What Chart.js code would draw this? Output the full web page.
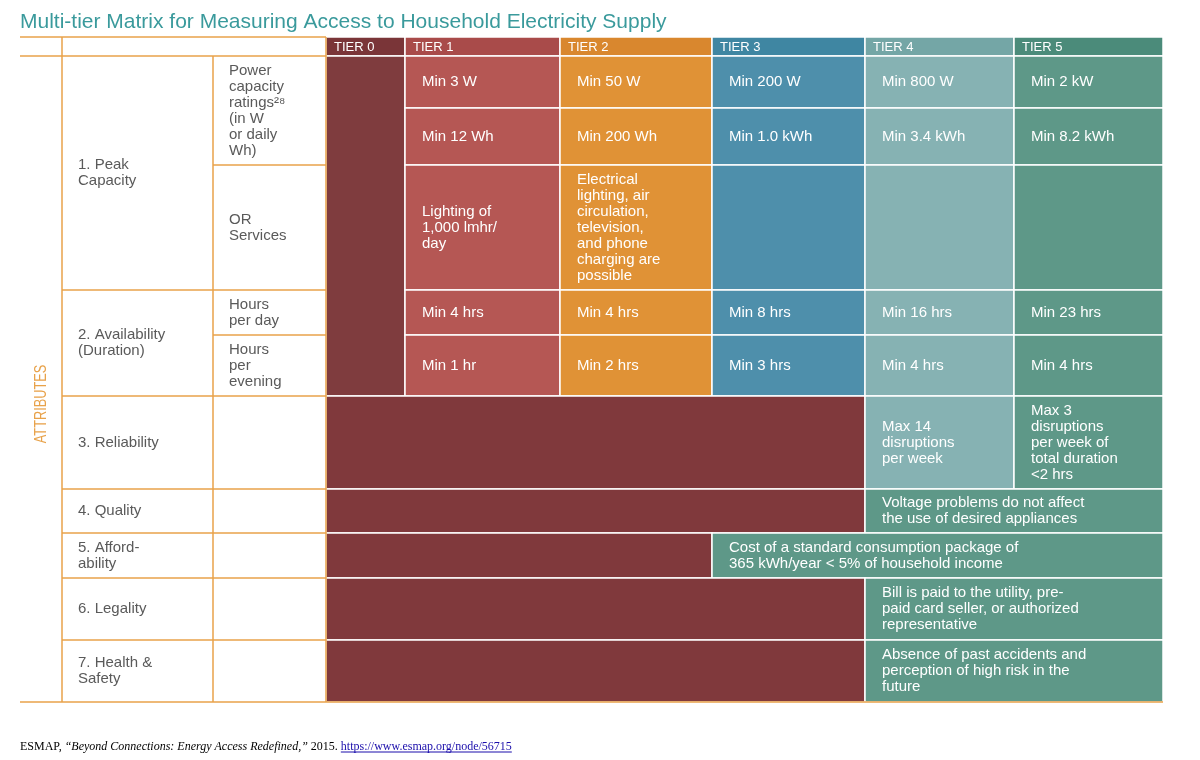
<!DOCTYPE html>
<html>
<head>
<meta charset="utf-8">
<script src="https://cdn.jsdelivr.net/npm/chart.js@4"></script>
<style>
  body { margin: 0; background: #fff; }
  #wrap { position: relative; width: 1200px; height: 760px; }
</style>
</head>
<body>
<div id="wrap"><canvas id="matrix"></canvas></div>
<script>
// ---- data ----
const title = "Multi-tier Matrix for Measuring Access to Household Electricity Supply";
const tiers = ["TIER 0", "TIER 1", "TIER 2", "TIER 3", "TIER 4", "TIER 5"];
const attributes = ["1. Peak\nCapacity", "2. Availability\n(Duration)", "3. Reliability", "4. Quality", "5. Afford-\nability", "6. Legality", "7. Health &\nSafety"];
const subAttributes = ["Power\ncapacity\nratings²⁸\n(in W\nor daily\nWh)", "OR\nServices", "Hours\nper day", "Hours\nper\nevening"];
const tier1 = ["Min 3 W", "Min 12 Wh", "Lighting of\n1,000 lmhr/\nday", "Min 4 hrs", "Min 1 hr"];
const tier2 = ["Min 50 W", "Min 200 Wh", "Electrical\nlighting, air\ncirculation,\ntelevision,\nand phone\ncharging are\npossible", "Min 4 hrs", "Min 2 hrs"];
const tier3 = ["Min 200 W", "Min 1.0 kWh", "", "Min 8 hrs", "Min 3 hrs"];
const tier4 = ["Min 800 W", "Min 3.4 kWh", "", "Min 16 hrs", "Min 4 hrs"];
const tier5 = ["Min 2 kW", "Min 8.2 kWh", "", "Min 23 hrs", "Min 4 hrs"];
const reliability = ["Max 14\ndisruptions\nper week", "Max 3\ndisruptions\nper week of\ntotal duration\n<2 hrs"];
const quality = "Voltage problems do not affect\nthe use of desired appliances";
const affordability = "Cost of a standard consumption package of\n365 kWh/year < 5% of household income";
const legality = "Bill is paid to the utility, pre-\npaid card seller, or authorized\nrepresentative";
const health = "Absence of past accidents and\nperception of high risk in the\nfuture";
const source = "ESMAP, ";
const sourceTitle = "“Beyond Connections: Energy Access Redefined,”";
const sourceYear = " 2015. ";
const sourceUrl = "https://www.esmap.org/node/56715";

// ---- layout (grid edges in chart units) ----
const colX = [20, 62, 213, 326, 405, 560, 712, 865, 1014, 1163];
const rowY = [37, 56, 108, 165, 290, 335, 396, 489, 533, 578, 640, 702];
const headColors = ["#7a3538", "#a94b4a", "#d9872e", "#3f86a2", "#74a6a6", "#4b8b7a"];
const tierColors = ["#7f3c3e", "#b55754", "#e09236", "#4e8fab", "#86b2b3", "#5e9888"];
const dark = "#80393c", teal = "#5e9888", orange = "#e8a24a", grey = "#5a5a5a";

// build cell list: [col0, col1, row0, row1, color, text, textColor]
const cells = [];
tiers.forEach((t, i) => cells.push([3 + i, 4 + i, 0, 1, headColors[i], t, "head"]));
cells.push([3, 4, 1, 6, tierColors[0], ""]);
[tier1, tier2, tier3, tier4, tier5].forEach((col, i) =>
  col.forEach((txt, r) => cells.push([4 + i, 5 + i, 1 + r, 2 + r, tierColors[i + 1], txt])));
cells.push([3, 7, 6, 7, dark, ""]);
cells.push([7, 8, 6, 7, tierColors[4], reliability[0]]);
cells.push([8, 9, 6, 7, tierColors[5], reliability[1]]);
cells.push([3, 7, 7, 8, dark, ""], [7, 9, 7, 8, teal, quality]);
cells.push([3, 6, 8, 9, dark, ""], [6, 9, 8, 9, teal, affordability]);
cells.push([3, 7, 9, 10, dark, ""], [7, 9, 9, 10, teal, legality]);
cells.push([3, 7, 10, 11, dark, ""], [7, 9, 10, 11, teal, health]);

// left labels: [col, row0, row1, text]
const labels = [
  [1, 1, 4, attributes[0]], [2, 1, 3, subAttributes[0]], [2, 3, 4, subAttributes[1]],
  [1, 4, 6, attributes[1]], [2, 4, 5, subAttributes[2]], [2, 5, 6, subAttributes[3]],
  [1, 6, 7, attributes[2]], [1, 7, 8, attributes[3]], [1, 8, 9, attributes[4]],
  [1, 9, 10, attributes[5]], [1, 10, 11, attributes[6]]
];

const FONT = '"Liberation Sans", Arial, sans-serif';

function drawLines(ctx, x, y, lines, lh) {
  lines.forEach((l, i) => ctx.fillText(l, x, y + i * lh));
}

const matrixPlugin = {
  id: "matrix",
  afterDraw(chart) {
    const ctx = chart.ctx, xs = chart.scales.x, ys = chart.scales.y;
    const px = c => xs.getPixelForValue(colX[c]);
    const py = r => ys.getPixelForValue(rowY[r]);
    ctx.save();
    // title
    ctx.fillStyle = "#3a9a9c";
    ctx.font = "21px " + FONT;
    ctx.textBaseline = "alphabetic";
    ctx.fillText(title, xs.getPixelForValue(20), ys.getPixelForValue(28));

    // colored cells
    cells.forEach(([c0, c1, r0, r1, color, text, kind]) => {
      const x0 = px(c0), x1 = px(c1), y0 = py(r0), y1 = py(r1);
      ctx.fillStyle = color;
      ctx.fillRect(x0, y0, x1 - x0, y1 - y0);
      ctx.strokeStyle = "#fff";
      ctx.lineWidth = 1.5;
      ctx.strokeRect(x0, y0, x1 - x0, y1 - y0);
      if (!text) return;
      ctx.fillStyle = "#fff";
      if (kind === "head") {
        ctx.font = "13px " + FONT;
        ctx.textBaseline = "middle";
        ctx.fillText(text, x0 + 8, (y0 + y1) / 2 + 1);
        return;
      }
      ctx.font = "15px " + FONT;
      ctx.textBaseline = "middle";
      const lines = text.split("\n"), lh = 16;
      const top = (y0 + y1) / 2 - (lines.length - 1) * lh / 2;
      drawLines(ctx, x0 + 17, top, lines, lh);
    });

    // left labels
    ctx.fillStyle = grey;
    ctx.font = "15px " + FONT;
    ctx.textBaseline = "middle";
    labels.forEach(([c, r0, r1, text]) => {
      const lines = text.split("\n"), lh = 16;
      const top = (py(r0) + py(r1)) / 2 - (lines.length - 1) * lh / 2;
      drawLines(ctx, px(c) + 16, top, lines, lh);
    });

    // orange grid of the left part
    ctx.strokeStyle = orange;
    ctx.lineWidth = 1.5;
    const seg = (xa, ya, xb, yb) => { ctx.beginPath(); ctx.moveTo(xa, ya); ctx.lineTo(xb, yb); ctx.stroke(); };
    seg(px(0), py(0), px(3), py(0));
    seg(px(0), py(1), px(3), py(1));
    [1, 2, 3].forEach(c => seg(px(c), py(c === 2 ? 1 : 0), px(c), py(11)));
    [4, 6, 7, 8, 9, 10].forEach(r => seg(px(1), py(r), px(3), py(r)));
    [3, 5].forEach(r => seg(px(2), py(r), px(3), py(r)));
    seg(px(0), py(11), px(9), py(11));

    // ATTRIBUTES side label
    ctx.save();
    ctx.translate(px(0) + 21, (py(1) + py(11)) / 2 + 25);
    ctx.rotate(-Math.PI / 2);
    ctx.fillStyle = orange;
    ctx.font = "17px " + FONT;
    ctx.textAlign = "center";
    ctx.scale(0.75, 1);
    ctx.fillText("ATTRIBUTES", 0, 0);
    ctx.restore();

    // source line
    const sy = ys.getPixelForValue(750);
    let sx = xs.getPixelForValue(20);
    ctx.textBaseline = "alphabetic";
    ctx.fillStyle = "#000";
    ctx.font = '12px "Liberation Serif", serif';
    ctx.fillText(source, sx, sy); sx += ctx.measureText(source).width;
    ctx.font = 'italic 12px "Liberation Serif", serif';
    ctx.fillText(sourceTitle, sx, sy); sx += ctx.measureText(sourceTitle).width;
    ctx.font = '12px "Liberation Serif", serif';
    ctx.fillText(sourceYear, sx, sy); sx += ctx.measureText(sourceYear).width;
    ctx.fillStyle = "#1a0dab";
    ctx.fillText(sourceUrl, sx, sy);
    const w = ctx.measureText(sourceUrl).width;
    ctx.strokeStyle = "#1a0dab"; ctx.lineWidth = 1;
    seg(sx, sy + 2, sx + w, sy + 2);
    ctx.restore();
  }
};

new Chart(document.getElementById("matrix"), {
  type: "scatter",
  data: { datasets: [{ data: cells.map(c => ({ x: (colX[c[0]] + colX[c[1]]) / 2, y: (rowY[c[2]] + rowY[c[3]]) / 2 })), pointRadius: 0 }] },
  options: {
    responsive: true, maintainAspectRatio: false, animation: false,
    layout: { padding: 0 },
    plugins: { legend: { display: false }, tooltip: { enabled: false } },
    scales: {
      x: { type: "linear", min: 0, max: 1200, display: false },
      y: { type: "linear", min: 0, max: 760, reverse: true, display: false }
    }
  },
  plugins: [matrixPlugin]
});
</script>
</body>
</html>
